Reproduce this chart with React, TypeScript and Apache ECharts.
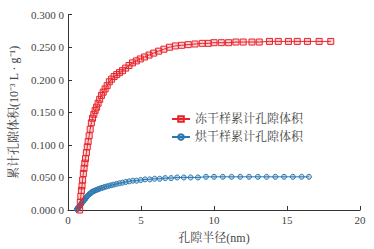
import React, { useEffect, useRef } from "react";
import * as echarts from "echarts";

const redName = "冻干样累计孔隙体积";
const blueName = "烘干样累计孔隙体积";

const redX = [0.80, 0.84, 0.88, 0.92, 0.96, 1.00, 1.05, 1.10, 1.15, 1.20, 1.26, 1.32, 1.38, 1.45, 1.52, 1.60, 1.68, 1.77, 1.86, 1.96, 2.06, 2.17, 2.29, 2.41, 2.54, 2.68, 2.83, 2.99, 3.16, 3.34, 3.53, 3.73, 3.95, 4.18, 4.42, 4.68, 4.95, 5.24, 5.55, 5.87, 6.21, 6.57, 6.95, 7.35, 7.78, 8.23, 8.70, 9.20, 9.60, 10.0, 10.5, 11.0, 11.5, 12.0, 12.6, 13.1, 13.8, 14.4, 15.1, 15.7, 16.4, 17.2, 18.0];
const redY = [0.000, 0.012, 0.021, 0.030, 0.037, 0.046, 0.056, 0.064, 0.072, 0.079, 0.088, 0.097, 0.105, 0.114, 0.124, 0.134, 0.141, 0.147, 0.153, 0.158, 0.164, 0.170, 0.176, 0.181, 0.186, 0.191, 0.197, 0.201, 0.205, 0.208, 0.211, 0.214, 0.218, 0.222, 0.226, 0.229, 0.232, 0.235, 0.238, 0.241, 0.244, 0.247, 0.250, 0.252, 0.253, 0.254, 0.255, 0.256, 0.256, 0.257, 0.257, 0.257, 0.258, 0.258, 0.258, 0.258, 0.259, 0.259, 0.259, 0.259, 0.259, 0.259, 0.259];

const blueX = [0.60, 0.64, 0.68, 0.72, 0.76, 0.80, 0.85, 0.90, 0.95, 1.00, 1.06, 1.12, 1.18, 1.25, 1.32, 1.40, 1.48, 1.57, 1.66, 1.76, 1.86, 1.97, 2.08, 2.20, 2.33, 2.47, 2.62, 2.78, 2.95, 3.13, 3.32, 3.52, 3.73, 3.95, 4.19, 4.44, 4.70, 4.98, 5.28, 5.60, 5.93, 6.28, 6.66, 7.06, 7.48, 7.93, 8.40, 8.90, 9.45, 10.0, 10.6, 11.2, 11.8, 12.4, 13.0, 13.6, 14.2, 14.8, 15.4, 16.0, 16.5];
const blueY = [0.001, 0.002, 0.003, 0.004, 0.005, 0.006, 0.008, 0.009, 0.011, 0.012, 0.014, 0.016, 0.017, 0.019, 0.021, 0.023, 0.025, 0.026, 0.028, 0.029, 0.030, 0.031, 0.032, 0.033, 0.034, 0.035, 0.036, 0.037, 0.038, 0.039, 0.040, 0.041, 0.042, 0.043, 0.044, 0.045, 0.045, 0.046, 0.047, 0.047, 0.048, 0.048, 0.049, 0.049, 0.050, 0.050, 0.050, 0.050, 0.051, 0.051, 0.051, 0.051, 0.051, 0.051, 0.051, 0.051, 0.051, 0.051, 0.051, 0.051, 0.051];

const xTicks = { min: 0, max: 20, interval: 5 };
const yTicks = { min: 0, max: 0.3, interval: 0.05 };

const FONT = "'Liberation Serif', 'Times New Roman', 'Noto Serif CJK SC', 'Noto Sans CJK SC', serif";
const RED = "#e8232b";
const BLUE = "#2a78b0";

export default function App() {
  const ref = useRef<HTMLDivElement>(null);
  useEffect(() => {
    if (!ref.current) return;
    const chart = echarts.init(ref.current, undefined, { renderer: "svg" });
    chart.setOption({
      animation: false,
      backgroundColor: "#ffffff",
      textStyle: { fontFamily: FONT },
      grid: { left: 66, right: 14, top: 14.7, bottom: 38.3, containLabel: false },
      legend: {
        left: 166,
        top: 108,
        orient: "vertical",
        itemWidth: 18,
        itemHeight: 7,
        itemGap: 6,
        textStyle: { fontFamily: FONT, fontSize: 12, color: "#444" },
        data: [redName, blueName],
      },
      xAxis: {
        type: "value",
        min: xTicks.min,
        max: xTicks.max,
        interval: xTicks.interval,
        name: "孔隙半径(nm)",
        nameLocation: "middle",
        nameGap: 22,
        nameTextStyle: { fontFamily: FONT, fontSize: 12, color: "#444" },
        axisLine: { show: true, lineStyle: { color: "#333", width: 1 } },
        axisTick: { show: true, inside: true, length: 4, lineStyle: { color: "#333" } },
        axisLabel: { fontFamily: FONT, fontSize: 11, color: "#444", margin: 5 },
        splitLine: { show: false },
      },
      yAxis: {
        type: "value",
        min: yTicks.min,
        max: yTicks.max,
        interval: yTicks.interval,
        name: "累计孔隙体积(10⁻³ L · g⁻¹)",
        nameLocation: "middle",
        nameGap: 48,
        nameTextStyle: { fontFamily: FONT, fontSize: 12, color: "#444" },
        axisLine: { show: true, lineStyle: { color: "#333", width: 1 } },
        axisTick: { show: true, inside: true, length: 4, lineStyle: { color: "#333" } },
        axisLabel: {
          fontFamily: FONT,
          fontSize: 11,
          color: "#444",
          margin: 4,
          formatter: (v: number) => {
            const s = v.toFixed(4);
            return s.slice(0, 5) + " " + s.slice(5);
          },
        },
        splitLine: { show: false },
      },
      series: [
        {
          name: redName,
          type: "line",
          data: redX.map((x, i) => [x, redY[i]]),
          symbol: "rect",
          symbolSize: 6,
          showAllSymbol: true,
          lineStyle: { color: RED, width: 1 },
          itemStyle: { color: "rgba(232,35,43,0.2)", borderColor: RED, borderWidth: 1 },
          z: 3,
        },
        {
          name: blueName,
          type: "line",
          data: blueX.map((x, i) => [x, blueY[i]]),
          symbol: "circle",
          symbolSize: 5,
          showAllSymbol: true,
          lineStyle: { color: BLUE, width: 1 },
          itemStyle: { color: "rgba(42,120,176,0.3)", borderColor: BLUE, borderWidth: 1 },
          z: 2,
        },
      ],
    });
    return () => chart.dispose();
  }, []);
  return (
    <div
      ref={ref}
      style={{ position: "absolute", left: 0, top: 0, width: 374, height: 249 }}
    />
  );
}
